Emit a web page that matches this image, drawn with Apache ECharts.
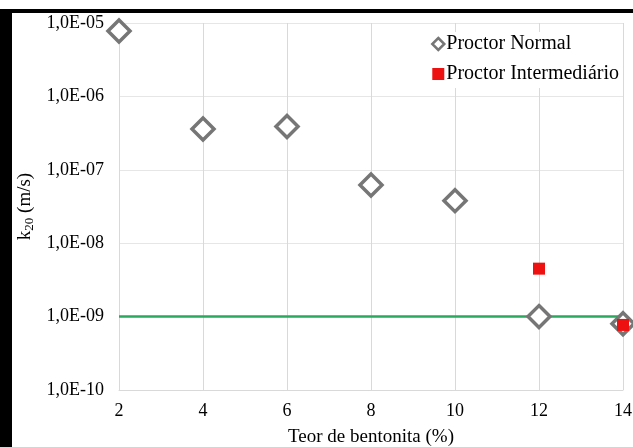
<!DOCTYPE html>
<html>
<head>
<meta charset="utf-8">
<script src="https://cdn.jsdelivr.net/npm/echarts@6/dist/echarts.min.js"></script>
<style>
html, body { margin: 0; padding: 0; background: #fff; }
#container { width: 633px; height: 447px; }
</style>
</head>
<body>
<div id="container"></div>
<script>
var teor = [2, 4, 6, 8, 10, 12, 14];
var normal = [7.8e-6, 3.6e-7, 3.9e-7, 6.2e-8, 3.8e-8, 1.0e-9, 8.0e-10];
var interTeor = [12, 14];
var intermediario = [4.5e-9, 7.7e-10];
var limite = 1e-9;

var dom = document.getElementById("container");
var myChart = echarts.init(dom);
var serif = '"Liberation Serif", "DejaVu Serif", serif';

function expLabel(v) {
    var e = Math.round(Math.log(v) / Math.LN10);
    var s = Math.abs(e) < 10 ? '0' + Math.abs(e) : '' + Math.abs(e);
    return '1,0E' + (e < 0 ? '-' : '+') + s;
}

option = {
    animation: false,
    graphic: [
        { type: 'rect', left: 0, top: 9, shape: { width: 633, height: 4 }, style: { fill: '#000' } },
        { type: 'rect', left: 0, top: 9, shape: { width: 12, height: 438 }, style: { fill: '#000' } }
    ],
    legend: {
        right: 10,
        top: 32,
        orient: 'vertical',
        itemGap: 10,
        itemWidth: 12,
        itemHeight: 12,
        backgroundColor: '#fff',
        padding: [2, 4, 4, 4],
        textStyle: { fontFamily: serif, fontSize: 20, color: '#000', padding: [0, 0, 0, -3] },
        data: [
            { name: 'Proctor Normal', icon: 'diamond', itemStyle: { color: '#fff', borderColor: '#767676', borderWidth: 2.5 } },
            { name: 'Proctor Intermediário', icon: 'rect', itemStyle: { color: '#ee1111' } }
        ]
    },
    grid: { left: 119, right: 10, top: 23, bottom: 57, containLabel: false, outerBoundsMode: 'none' },
    xAxis: {
        type: 'value',
        min: 2,
        max: 14,
        interval: 2,
        name: 'Teor de bentonita (%)',
        nameLocation: 'middle',
        nameGap: 38,
        nameTextStyle: { fontFamily: serif, fontSize: 19, color: '#000' },
        axisLine: { show: true, lineStyle: { color: '#d9d9d9' } },
        axisTick: { show: false },
        axisLabel: { fontFamily: serif, fontSize: 18, color: '#000', margin: 12 },
        splitLine: { show: true, lineStyle: { color: '#d9d9d9' } }
    },
    yAxis: {
        type: 'log',
        logBase: 10,
        min: 1e-10,
        max: 1e-5,
        name: 'k{sub|20} (m/s)',
        nameLocation: 'middle',
        nameGap: 80,
        nameRotate: 90,
        nameTextStyle: {
            fontFamily: serif, fontSize: 19, color: '#000',
            rich: { sub: { fontFamily: serif, fontSize: 13, color: '#000', verticalAlign: 'bottom', padding: [8, 0, 0, 0] } }
        },
        axisLine: { show: false },
        axisTick: { show: false },
        axisLabel: { fontFamily: serif, fontSize: 18, color: '#000', margin: 15, formatter: expLabel },
        splitLine: { show: true, lineStyle: { color: '#e6e6e6' } }
    },
    series: [
        {
            name: 'Limite',
            type: 'line',
            symbol: 'none',
            silent: true,
            lineStyle: { color: '#2aa85e', width: 2.5 },
            data: [[teor[0], limite], [teor[teor.length - 1], limite]],
            z: 2
        },
        {
            name: 'Proctor Normal',
            type: 'scatter',
            symbol: 'diamond',
            symbolSize: 22,
            clip: false,
            itemStyle: { color: '#fff', borderColor: '#767676', borderWidth: 3.5, opacity: 1 },
            data: teor.map(function (t, i) { return [t, normal[i]]; }),
            z: 3
        },
        {
            name: 'Proctor Intermediário',
            type: 'scatter',
            symbol: 'rect',
            symbolSize: 12,
            clip: false,
            itemStyle: { color: '#ee1111', opacity: 1 },
            data: interTeor.map(function (t, i) { return [t, intermediario[i]]; }),
            z: 4
        }
    ]
};

if (option && typeof option === "object") {
    myChart.setOption(option, true);
}
</script>
</body>
</html>
